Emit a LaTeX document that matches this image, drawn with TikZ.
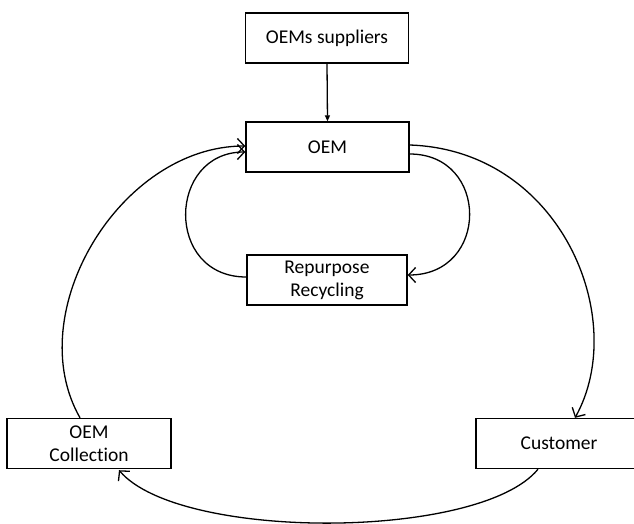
\documentclass[tikz,border=0pt]{standalone}
\usepackage{fontspec}
\setmainfont{Carlito}[Ligatures=NoCommon]
\usetikzlibrary{arrows.meta}
\begin{document}
\begin{tikzpicture}[x=1pt,y=-1pt,
  box/.style={draw=black, line width=1.4pt, fill=white, inner sep=0pt,
    minimum height=50pt, align=center, font=\fontsize{19.5}{23}\selectfont},
  flow/.style={draw=black, line width=1.3pt, -{Straight Barb[length=7pt,width=15pt]}},
  feed/.style={draw=black, line width=1.3pt, -{Triangle[length=6pt,width=5pt]}}]
\useasboundingbox (0,0) rectangle (634,523);

% boxes (the customer box runs off the right edge)
\node[box, minimum width=163pt] (sup) at (327,38) {OEMs suppliers};
\node[box, minimum width=163pt] (oem) at (327.5,147) {OEM};
\node[box, minimum width=160pt] (rep) at (327,280) {Repurpose\\Recycling};
\node[box, minimum width=164pt] (col) at (89,443.5) {OEM\\Collection};
\node[box, minimum width=166pt] (cus) at (559,443.5) {Customer};

% supply into the OEM
\draw[feed] (sup.south) -- (oem.north);

% OEM to customer
\draw[flow] ([yshift=2pt]oem.east) .. controls +(151,5) and +(55,-99) .. ([xshift=16pt]cus.north);
% OEM to repurpose / recycling
\draw[flow] ([yshift=-7pt]oem.east) .. controls +(80,0) and +(82,0) .. ([yshift=5pt]rep.east);
% repurpose / recycling back to OEM
\draw[flow] ([yshift=3pt]rep.west) .. controls +(-82,0) and +(-78,0) .. ([yshift=-5pt]oem.west);
% customer to collection
\draw[flow] ([xshift=-21pt]cus.south) .. controls +(-58,71) and +(61,71) .. ([xshift=30pt,yshift=-1pt]col.south);
% collection back to OEM
\draw[flow] ([xshift=-9pt]col.north) .. controls +(-60,-105) and +(-125,0) .. ([yshift=1pt]oem.west);
\end{tikzpicture}
\end{document}
